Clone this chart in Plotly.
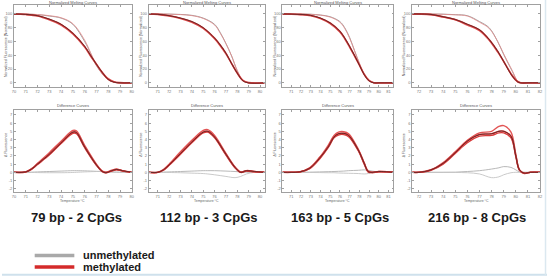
import plotly.graph_objects as go

W, H = 550, 276

# ---------------- data ----------------
PANEL_LABELS = ["79 bp - 2 CpGs", "112 bp - 3 CpGs", "163 bp - 5 CpGs", "216 bp - 8 CpGs"]
LEGEND_LABELS = ["unmethylated", "methylated"]
TOP_TITLE = "Normalized Melting Curves"
BOT_TITLE = "Difference Curves"

# panel 1
P1_TICKS = [70, 71, 72, 73, 74, 75, 76, 77, 78, 79, 80]
P1_T = [70, 71, 72, 73, 74, 75, 76, 76.5, 77, 77.5, 78, 78.5, 79, 80]
P1_LOW_A = [100, 99.4, 97.5, 92.5, 85, 72, 53, 40, 27, 15, 5, 1, 0, 0]
P1_LOW_B = [100, 99.2, 97, 91.5, 84, 71, 52, 39, 27, 15, 6, 1.5, 0.3, 0]
P1_UP_A = [100, 99.8, 99, 97, 94, 85, 60, 43, 25, 13, 5, 1, 0, 0]
P1_UP_B = [100, 99.9, 99.2, 97.5, 94.5, 86, 62, 44, 26, 13, 5, 1, 0.2, 0]
P1_D = [70, 71, 71.5, 72, 73, 74, 75, 75.3, 76, 77, 77.5, 77.8, 78.3, 78.7, 79.2, 80]
P1_RED_A = [0, 0.05, 0.4, 1.0, 2.2, 3.6, 4.9, 4.85, 3.1, 0.9, 0.1, -0.05, 0.2, 0.35, 0.2, 0]
P1_RED_B = [0, 0.05, 0.45, 1.1, 2.4, 3.8, 5.1, 5.05, 3.3, 1.0, 0.15, 0, 0.25, 0.4, 0.2, 0]
P1_RED_C = [0, 0.05, 0.35, 0.95, 2.1, 3.5, 4.75, 4.7, 3.0, 0.85, 0.1, -0.05, 0.15, 0.3, 0.15, 0]
P1_GRAY_A = [0, 0, 0.02, 0.05, 0.1, 0.15, 0.2, 0.2, 0.18, 0.12, 0.08, 0.05, 0.03, 0.02, 0, 0]
P1_GRAY_B = [0, 0, -0.02, -0.03, -0.05, -0.05, -0.02, 0, 0.05, 0.1, 0.12, 0.1, 0.05, 0.02, 0, 0]

# panel 2
P2_TICKS = [71, 72, 73, 74, 75, 76, 77, 78, 79, 80]
P2_T = [70.2, 71, 72, 73, 74, 75, 76, 76.5, 77, 77.5, 78, 78.5, 79, 80.4]
P2_LOW_A = [100, 99.5, 97.5, 94, 89, 80, 65, 55, 43, 28, 14, 3, 0, 0]
P2_LOW_B = [100, 99.3, 97, 93.5, 88, 79, 64, 54, 42, 28, 14, 3.5, 0.3, 0]
P2_UP_A = [100, 100, 99.8, 99.3, 98, 94, 85, 73, 57, 39, 17, 3, 0, 0]
P2_UP_B = [100, 100, 99.7, 99.1, 97.6, 93.5, 84, 72, 57, 39, 18, 3.5, 0.2, 0]
P2_D = [70.2, 71, 71.5, 72, 73, 74, 75, 75.4, 76, 77, 77.8, 78.3, 78.8, 79.5, 80.4]
P2_RED_A = [0, 0, 0.3, 0.9, 2.3, 3.7, 4.9, 5.0, 4.3, 2.2, 0.6, 0.0, 0.2, 0.1, 0]
P2_RED_B = [0, 0, 0.35, 1.0, 2.5, 3.9, 5.1, 5.2, 4.5, 2.3, 0.65, 0.05, 0.2, 0.1, 0]
P2_RED_C = [0, 0, 0.25, 0.85, 2.2, 3.6, 4.8, 4.9, 4.2, 2.1, 0.55, 0, 0.15, 0.05, 0]
P2_GRAY_A = [0, 0, 0.02, 0.05, 0.1, 0.15, 0.2, 0.2, 0.2, 0.15, 0.1, 0.05, 0.02, 0, 0]
P2_GRAY_B = [0, 0, 0, -0.02, -0.05, -0.1, -0.15, -0.2, -0.3, -0.5, -0.65, -0.5, -0.2, 0, 0]

# panel 3
P3_TICKS = [71, 72, 73, 74, 75, 76, 77, 78, 79, 80, 81]
P3_T = [70.1, 71, 72, 73, 74, 75, 76, 76.5, 77, 77.5, 78, 78.5, 79, 79.5, 80, 81.5]
P3_LOW_A = [100, 99.8, 99.3, 98, 94, 87, 75, 65, 53, 40, 26, 12, 3, 0, 0, 0]
P3_LOW_B = [100, 99.7, 99.0, 97.5, 93.5, 86, 74, 64, 52, 39, 26, 12.5, 3.5, 0.3, 0, 0]
P3_UP_A = [100, 100, 99.9, 99.6, 98.5, 96, 89, 80, 66, 47, 28, 12, 3, 0, 0, 0]
P3_UP_B = [100, 100, 99.8, 99.4, 98.2, 95.5, 88, 79, 65, 47, 29, 13, 3.5, 0.2, 0, 0]
P3_D = [70.1, 71, 71.85, 72.9, 73.9, 74.8, 75.4, 75.85, 76.4, 76.9, 77.9, 78.5, 78.9, 79.3, 80, 81, 81.5]
P3_RED_A = [0, 0, 0.05, 0.5, 1.7, 3.1, 4.3, 4.7, 4.75, 4.5, 2.7, 1.1, 0.1, 0, 0.1, 0.05, 0]
P3_RED_B = [0, 0, 0.05, 0.55, 1.8, 3.3, 4.5, 4.9, 4.95, 4.7, 2.8, 1.15, 0.15, 0, 0.1, 0.05, 0]
P3_RED_C = [0, 0, 0.04, 0.45, 1.6, 3.0, 4.2, 4.55, 4.6, 4.35, 2.6, 1.0, 0.05, -0.05, 0.05, 0.05, 0]
P3_GRAY_A = [0, 0, 0, 0.02, 0.05, 0.08, 0.1, 0.12, 0.15, 0.2, 0.25, 0.3, 0.25, 0.15, 0.05, 0, 0]
P3_GRAY_B = [0, 0, 0, -0.02, -0.03, -0.05, -0.05, -0.08, -0.1, -0.12, -0.15, -0.2, -0.15, -0.05, 0, 0, 0]

# panel 4
P4_TICKS = [72, 73, 74, 75, 76, 77, 78, 79, 80, 81, 82]
P4_T = [71.45, 72, 73, 74, 75, 76, 77, 77.8, 78.5, 79, 79.7, 80.15, 80.4, 81, 82]
P4_LOW_A = [100, 100, 99.3, 96, 92, 85, 77, 63, 46, 31, 10, 1.5, 0, 0, 0]
P4_LOW_B = [100, 99.8, 99.0, 95.5, 91.5, 84, 76, 62, 45, 31, 11, 2, 0.3, 0, 0]
P4_UP_A = [100, 100, 100, 99.7, 99, 97.5, 89, 80, 60, 41, 17, 2, 0, 0, 0]
P4_UP_B = [100, 100, 99.9, 99.5, 98.7, 97, 88, 79, 60, 42, 18, 2.5, 0.2, 0, 0]
P4_D = [71.45, 72, 73, 74, 75, 76, 77, 78, 78.6, 79, 79.6, 80, 80.3, 80.7, 81.2, 82]
P4_RED_A = [0, 0, 0.3, 1.1, 2.4, 3.8, 4.6, 4.7, 5.0, 5.0, 4.4, 2.0, 0.3, -0.1, 0, 0]
P4_RED_B = [0, 0, 0.3, 1.2, 2.5, 3.9, 4.8, 5.0, 5.6, 5.7, 4.9, 2.2, 0.3, -0.1, 0, 0]
P4_RED_C = [0, 0, 0.25, 1.0, 2.3, 3.6, 4.4, 4.5, 4.8, 4.8, 4.2, 1.9, 0.25, -0.15, 0, 0]
P4_GRAY_A = [0, 0, 0, 0, 0.02, 0.1, 0.2, 0.4, 0.55, 0.7, 0.6, 0.3, 0.05, 0, 0, 0]
P4_GRAY_B = [0, 0, 0, 0, -0.02, -0.05, -0.2, -0.65, -0.55, -0.3, -0.05, 0, 0, 0, 0, 0]

DIFF_TICKS = [-2, -1, 0, 1, 2, 3, 4, 5, 6, 7]
NORM_TICKS = [0, 20, 40, 60, 80, 100]

PANELS = [
    dict(ticks=P1_TICKS, t=P1_T, low=[P1_LOW_A, P1_LOW_B], up=[P1_UP_A, P1_UP_B],
         d=P1_D, red=[P1_RED_A, P1_RED_B, P1_RED_C], gray=[P1_GRAY_A, P1_GRAY_B]),
    dict(ticks=P2_TICKS, t=P2_T, low=[P2_LOW_A, P2_LOW_B], up=[P2_UP_A, P2_UP_B],
         d=P2_D, red=[P2_RED_A, P2_RED_B, P2_RED_C], gray=[P2_GRAY_A, P2_GRAY_B]),
    dict(ticks=P3_TICKS, t=P3_T, low=[P3_LOW_A, P3_LOW_B], up=[P3_UP_A, P3_UP_B],
         d=P3_D, red=[P3_RED_A, P3_RED_B, P3_RED_C], gray=[P3_GRAY_A, P3_GRAY_B]),
    dict(ticks=P4_TICKS, t=P4_T, low=[P4_LOW_A, P4_LOW_B], up=[P4_UP_A, P4_UP_B],
         d=P4_D, red=[P4_RED_A, P4_RED_B, P4_RED_C], gray=[P4_GRAY_A, P4_GRAY_B]),
]

# ---------------- layout geometry (pixels) ----------------
COLS_PX = [(12, 131), (148, 265), (283, 395), (414, 543)]
TOP_PX = (5, 87)
BOT_PX = (110, 192)


def px_x(x):
    return x / W


def px_y(y):
    return 1 - y / H


fig = go.Figure()
layout = dict(
    width=W, height=H, margin=dict(l=0, r=0, t=0, b=0),
    paper_bgcolor="white", plot_bgcolor="white", showlegend=False,
    font=dict(family="Liberation Sans, Arial, sans-serif"),
)
annotations = []
shapes = []

FRAME = "#a0a0a0"
TICKF = dict(size=4, color="#777777")

RED1 = "#d83a3a"
RED2 = "#e25555"
DARK = "#3c1e1e"
PINK = "#e58a8a"
GRAYL = "#8c8c8c"
GRAYD = "#b0b0b0"

for i, p in enumerate(PANELS):
    x0, x1 = COLS_PX[i]
    xr = [p["t"][0], p["t"][-1]]
    for row in range(2):
        n = i * 2 + row + 1
        xa = "xaxis" if n == 1 else f"xaxis{n}"
        ya = "yaxis" if n == 1 else f"yaxis{n}"
        xref = "x" if n == 1 else f"x{n}"
        yref = "y" if n == 1 else f"y{n}"
        ypx = TOP_PX if row == 0 else BOT_PX
        layout[xa] = dict(
            domain=[px_x(x0), px_x(x1)], anchor=yref, range=xr,
            tickvals=p["ticks"], ticktext=[str(v) for v in p["ticks"]],
            showline=True, mirror="ticks", linecolor=FRAME, linewidth=0.8,
            ticks="inside", ticklen=2, tickcolor=FRAME, tickwidth=0.6,
            tickfont=TICKF, showgrid=False, zeroline=False, ticklabelstandoff=0,
        )
        if row == 0:
            yr = [-6, 113]
            tv = NORM_TICKS
        else:
            yr = [-2.4, 7.6]
            tv = DIFF_TICKS
        layout[ya] = dict(
            domain=[px_y(ypx[1]), px_y(ypx[0])], anchor=xref, range=yr,
            tickvals=tv, ticktext=[str(v) for v in tv],
            showline=True, mirror="ticks", linecolor=FRAME, linewidth=0.8,
            ticks="inside", ticklen=2, tickcolor=FRAME, tickwidth=0.6,
            tickfont=TICKF, showgrid=False, zeroline=False,
        )
        if row == 0:
            # upper (later-melting) thin curves, then the lower thick group
            fig.add_trace(go.Scatter(x=p["t"], y=p["up"][0], mode="lines", xaxis=xref, yaxis=yref,
                                     line=dict(color=GRAYL, width=0.8, shape="spline"), hoverinfo="skip"))
            fig.add_trace(go.Scatter(x=p["t"], y=p["up"][1], mode="lines", xaxis=xref, yaxis=yref,
                                     line=dict(color=PINK, width=0.8, shape="spline"), hoverinfo="skip"))
            fig.add_trace(go.Scatter(x=p["t"], y=p["low"][1], mode="lines", xaxis=xref, yaxis=yref,
                                     line=dict(color=RED2, width=1.6, shape="spline"), hoverinfo="skip"))
            fig.add_trace(go.Scatter(x=p["t"], y=p["low"][0], mode="lines", xaxis=xref, yaxis=yref,
                                     line=dict(color=RED1, width=1.4, shape="spline"), hoverinfo="skip"))
            fig.add_trace(go.Scatter(x=p["t"], y=p["low"][0], mode="lines", xaxis=xref, yaxis=yref,
                                     line=dict(color=DARK, width=0.7, shape="spline"), hoverinfo="skip"))
        else:
            for g, col in zip(p["gray"], [GRAYD, "#c4c4c4"]):
                fig.add_trace(go.Scatter(x=p["d"], y=g, mode="lines", xaxis=xref, yaxis=yref,
                                         line=dict(color=col, width=0.9, shape="spline"), hoverinfo="skip"))
            fig.add_trace(go.Scatter(x=p["d"], y=p["red"][1], mode="lines", xaxis=xref, yaxis=yref,
                                     line=dict(color=RED2, width=1.4, shape="spline"), hoverinfo="skip"))
            fig.add_trace(go.Scatter(x=p["d"], y=p["red"][0], mode="lines", xaxis=xref, yaxis=yref,
                                     line=dict(color=RED1, width=1.6, shape="spline"), hoverinfo="skip"))
            fig.add_trace(go.Scatter(x=p["d"], y=p["red"][2], mode="lines", xaxis=xref, yaxis=yref,
                                     line=dict(color=RED1, width=1.3, shape="spline"), hoverinfo="skip"))
            fig.add_trace(go.Scatter(x=p["d"], y=p["red"][0], mode="lines", xaxis=xref, yaxis=yref,
                                     line=dict(color=DARK, width=0.7, shape="spline"), hoverinfo="skip"))

    cx = (x0 + x1) / 2
    # small panel titles
    annotations.append(dict(x=px_x(cx), y=px_y(2.5), xref="paper", yref="paper", text=TOP_TITLE,
                            showarrow=False, font=dict(size=4, color="#555555"),
                            xanchor="center", yanchor="middle"))
    annotations.append(dict(x=px_x(cx), y=px_y(106), xref="paper", yref="paper", text=BOT_TITLE,
                            showarrow=False, font=dict(size=4, color="#555555"),
                            xanchor="center", yanchor="middle"))
    annotations.append(dict(x=px_x(cx), y=px_y(200.5), xref="paper", yref="paper", text="Temperature °C",
                            showarrow=False, font=dict(size=3.5, color="#666666"),
                            xanchor="center", yanchor="middle"))
    # vertical y titles
    annotations.append(dict(x=px_x(x0 - 8), y=px_y(46), xref="paper", yref="paper",
                            text="Normalized Fluorescence (Normalized)", textangle=-90,
                            showarrow=False, font=dict(size=3.5, color="#555555"),
                            xanchor="center", yanchor="middle"))
    annotations.append(dict(x=px_x(x0 - 8), y=px_y(145), xref="paper", yref="paper",
                            text="Δ Fluorescence", textangle=-90,
                            showarrow=False, font=dict(size=3.5, color="#555555"),
                            xanchor="center", yanchor="middle"))

# big bold labels
LABEL_X = [75.5, 208.5, 341.5, 479.5]
for lx, txt in zip(LABEL_X, PANEL_LABELS):
    annotations.append(dict(x=px_x(lx), y=px_y(217.5), xref="paper", yref="paper", text=f"<b>{txt}</b>",
                            showarrow=False, font=dict(size=13, color="#1a1a1a",
                                                       family="Liberation Sans, Arial, sans-serif"),
                            xanchor="center", yanchor="middle"))

# legend
LEG_COLORS = ["#a9a9a9", "#d42b2b"]
LEG_Y = [255.5, 267]
for lab, col, ly in zip(LEGEND_LABELS, LEG_COLORS, LEG_Y):
    shapes.append(dict(type="line", xref="paper", yref="paper", x0=px_x(33), x1=px_x(73),
                       y0=px_y(ly), y1=px_y(ly), line=dict(color=col, width=3.5)))
    annotations.append(dict(x=px_x(80), y=px_y(ly - 0.5), xref="paper", yref="paper", text=f"<b>{lab}</b>",
                            showarrow=False, font=dict(size=11, color="#1a1a1a",
                                                       family="Liberation Sans, Arial, sans-serif"),
                            xanchor="left", yanchor="middle"))

# light-blue frame at bottom / right edge
shapes.append(dict(type="line", xref="paper", yref="paper", x0=0, x1=1, y0=px_y(274.8), y1=px_y(274.8),
                   line=dict(color="#cfe1ec", width=2)))
shapes.append(dict(type="line", xref="paper", yref="paper", x0=px_x(548.5), x1=px_x(548.5), y0=0, y1=1,
                   line=dict(color="#dbe8f0", width=1.5)))

layout["annotations"] = annotations
layout["shapes"] = shapes
fig.update_layout(**layout)
fig.write_html("out.html")
